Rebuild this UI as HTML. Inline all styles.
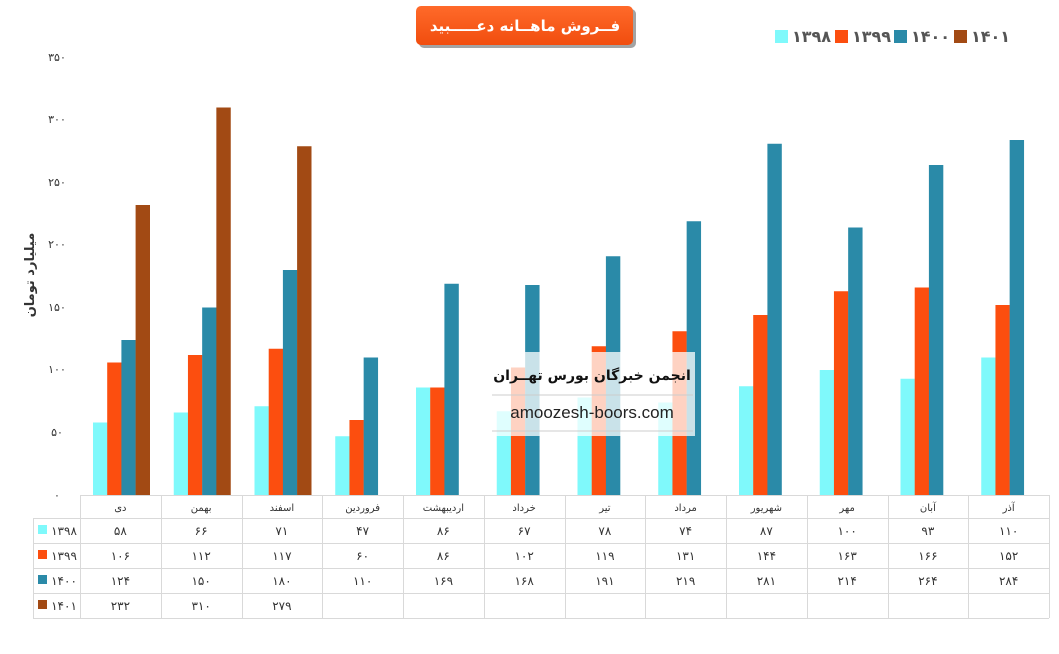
<!DOCTYPE html>
<html><head><meta charset="utf-8"><style>
body{margin:0;background:#fff;width:1059px;height:650px;overflow:hidden;font-family:"DejaVu Sans","Noto Sans CJK SC",sans-serif}
</style></head><body>
<svg width="1059" height="650" xmlns="http://www.w3.org/2000/svg" font-family="DejaVu Sans, sans-serif">
<defs><linearGradient id="g" x1="0" y1="0" x2="0" y2="1"><stop offset="0" stop-color="#ff6a2a"/><stop offset="1" stop-color="#f14d0e"/></linearGradient></defs>
<rect x="419" y="9" width="217" height="39" rx="5" fill="#333" opacity="0.45"/>
<rect x="416" y="6" width="217" height="39" rx="5" fill="url(#g)"/>
<text x="525" y="31" text-anchor="middle" font-size="15" font-weight="bold" fill="#fff" direction="rtl">فــروش ماهــانه دعـــــبید</text>
<g font-size="16" font-weight="bold" fill="#555">
<rect x="775" y="30" width="13" height="13" fill="#7ff9fb"/><text x="792" y="42">۱۳۹۸</text>
<rect x="835" y="30" width="13" height="13" fill="#fc4e0f"/><text x="852" y="42">۱۳۹۹</text>
<rect x="894" y="30" width="13" height="13" fill="#2a8aa8"/><text x="911" y="42">۱۴۰۰</text>
<rect x="954" y="30" width="13" height="13" fill="#a24a14"/><text x="971" y="42">۱۴۰۱</text>
</g>
<g font-size="11" fill="#333" text-anchor="middle">
<text x="57" y="499">۰</text><text x="57" y="436">۵۰</text><text x="57" y="373">۱۰۰</text><text x="57" y="311">۱۵۰</text><text x="57" y="248">۲۰۰</text><text x="57" y="186">۲۵۰</text><text x="57" y="123">۳۰۰</text><text x="57" y="61">۳۵۰</text>
</g>
<text transform="translate(34,275) rotate(-90)" text-anchor="middle" font-size="13" font-weight="bold" fill="#333">میلیارد تومان</text>
<g id="bars"></g>
<g id="tbl" stroke="#d9d9d9" stroke-width="1" fill="none"></g>
<g id="tt" font-size="12" fill="#333" text-anchor="middle"></g>
<rect x="490" y="352" width="205" height="84" fill="#fff" opacity="0.75"/>
<text x="592" y="380" text-anchor="middle" font-size="14" font-weight="bold" fill="#111">انجمن خبرگان بورس تهــران</text>
<line x1="492" y1="395" x2="693" y2="395" stroke="#ccc"/>
<text x="592" y="418" text-anchor="middle" font-family="Liberation Sans, sans-serif" font-size="17" fill="#222">amoozesh-boors.com</text>
<line x1="492" y1="431" x2="693" y2="431" stroke="#ccc"/>
</svg>
<script>
const m=["دی","بهمن","اسفند","فروردین","اردیبهشت","خرداد","تیر","مرداد","شهریور","مهر","آبان","آذر"];
const d=[[58,66,71,47,86,67,78,74,87,100,93,110],[106,112,117,60,86,102,119,131,144,163,166,152],[124,150,180,110,169,168,191,219,281,214,264,284],[232,310,279]];
const c=["#7ff9fb","#fc4e0f","#2a8aa8","#a24a14"],names=["۱۳۹۸","۱۳۹۹","۱۴۰۰","۱۴۰۱"];
const fa=n=>String(n).replace(/\d/g,x=>"۰۱۲۳۴۵۶۷۸۹"[x]);
const ns="http://www.w3.org/2000/svg";
function el(p,t,a,txt){const e=document.createElementNS(ns,t);for(const k in a)e.setAttribute(k,a[k]);if(txt!=null)e.textContent=txt;p.appendChild(e);return e;}
const B=document.getElementById("bars"),T=document.getElementById("tbl"),TT=document.getElementById("tt");
const W=969/12;
for(let i=0;i<12;i++){const x0=80+i*W;
 for(let s=0;s<4;s++){const v=d[s][i];if(v==null)continue;const h=v*1.25;
  el(B,"rect",{x:x0+13+s*14.2,y:495-h,width:14.4,height:h,fill:c[s]});}
 el(TT,"text",{x:x0+W/2,y:511,"font-size":10},m[i]);
 for(let s=0;s<4;s++){const v=d[s][i];if(v!=null)el(TT,"text",{x:x0+W/2,y:535+s*25},fa(v));}
}
el(T,"line",{x1:80,y1:495.5,x2:1049,y2:495.5});
[518,543,568,593,618].forEach(y=>el(T,"line",{x1:33,y1:y+.5,x2:1049,y2:y+.5}));
el(T,"line",{x1:33.5,y1:518,x2:33.5,y2:618});
for(let i=0;i<=12;i++){const x=Math.round(80+i*W)+.5;el(T,"line",{x1:x,y1:495,x2:x,y2:618});}
for(let s=0;s<4;s++){el(TT,"rect",{x:38,y:525+s*25,width:9,height:9,fill:c[s]});
 el(TT,"text",{x:64,y:535+s*25},names[s]);}
</script>
</body></html>
